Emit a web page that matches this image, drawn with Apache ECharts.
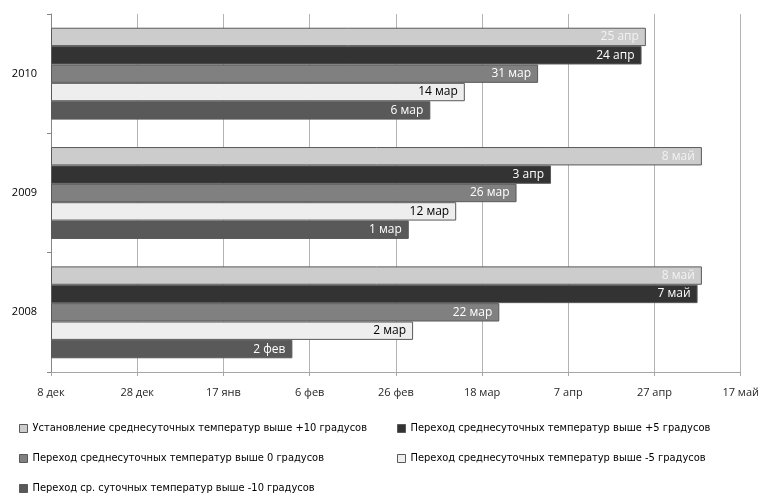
<!DOCTYPE html>
<html>
<head>
<meta charset="utf-8">
<script src="https://cdn.jsdelivr.net/npm/echarts@6/dist/echarts.min.js"></script>
<style>
  html, body { margin: 0; padding: 0; background: #ffffff; }
  #chart { width: 762px; height: 494px; }
</style>
</head>
<body>
<div id="chart"></div>
<script>
// Годы (снизу вверх)
const years = ['2008', '2009', '2010'];

// Подписи делений оси дат (шаг 20 дней от 8 декабря)
const tickLabels = ['8 дек', '28 дек', '17 янв', '6 фев', '26 фев', '18 мар', '7 апр', '27 апр', '17 май'];

// Названия рядов
const seriesNames = [
  'Установление среднесуточных температур выше +10 градусов',
  'Переход среднесуточных температур выше +5 градусов',
  'Переход среднесуточных температур выше 0 градусов',
  'Переход среднесуточных температур выше -5 градусов',
  'Переход ср. суточных температур выше -10 градусов'
];

// Даты перехода по годам: 2008, 2009, 2010
const above10  = ['8 май', '8 май', '25 апр'];
const above5   = ['7 май', '3 апр', '24 апр'];
const above0   = ['22 мар', '26 мар', '31 мар'];
const aboveM5  = ['2 мар', '12 мар', '14 мар'];
const aboveM10 = ['2 фев', '1 мар', '6 мар'];

// Номер дня от 8 декабря (невисокосный календарь оси)
const monthStart = { 'дек': -8, 'янв': 23, 'фев': 54, 'мар': 82, 'апр': 113, 'май': 143 };
function dayIndex(label) {
  const parts = label.split(' ');
  return monthStart[parts[1]] + Number(parts[0]);
}

const fills = ['#cccccc', '#333333', '#808080', '#eeeeee', '#595959'];
const labelColors = ['#f2f2f2', '#ffffff', '#ffffff', '#000000', '#ffffff'];
const values = [above10, above5, above0, aboveM5, aboveM10];

// Ряд +10 — верхняя полоса группы, −10 — нижняя
const series = values.map(function (labels, i) {
  return {
    name: seriesNames[i],
    type: 'bar',
    barGap: '0%',
    barCategoryGap: '23%',
    data: labels.map(function (l) { return { value: dayIndex(l), text: l }; }),
    itemStyle: { color: fills[i], borderColor: '#595959', borderWidth: 1 },
    label: {
      show: true,
      position: 'insideRight',
      distance: 7,
      color: labelColors[i],
      fontFamily: 'Open Sans',
      fontSize: 12,
      formatter: function (p) { return p.data.text; }
    }
  };
});

// Легенда в две колонки: каждая запись размещается отдельно
const legendSpots = [[14, 418], [392, 418], [14, 448], [392, 448], [14, 478]];
const legends = seriesNames.map(function (name, i) {
  return {
    data: [name],
    left: legendSpots[i][0], top: legendSpots[i][1],
    itemWidth: 8, itemHeight: 8, icon: 'rect',
    selectedMode: false,
    itemStyle: { borderColor: '#595959', borderWidth: 1 },
    textStyle: { fontFamily: '"DejaVu Sans Condensed", sans-serif', fontSize: 11, color: '#000' }
  };
});

const option = {
  animation: false,
  backgroundColor: '#ffffff',
  grid: { left: 51, right: 21, top: 14, bottom: 122 },
  legend: legends,
  xAxis: {
    type: 'value',
    min: 0, max: 160, interval: 20,
    axisLine: { show: true, lineStyle: { color: '#a6a6a6' } },
    axisTick: { show: true, length: 4, lineStyle: { color: '#a6a6a6' } },
    splitLine: { show: true, lineStyle: { color: '#b3b3b3' } },
    axisLabel: {
      margin: 15, color: '#262626', fontFamily: 'Open Sans', fontSize: 11,
      formatter: function (v) { return tickLabels[Math.round(v / 20)]; }
    }
  },
  yAxis: {
    type: 'category',
    data: years,
    axisLine: { show: true, lineStyle: { color: '#868686' } },
    axisTick: { show: true, length: 4, lineStyle: { color: '#868686' } },
    axisLabel: { margin: 14, color: '#000', fontFamily: 'Open Sans', fontSize: 11 }
  },
  series: series
};

echarts.init(document.getElementById('chart'), null, { renderer: 'canvas' }).setOption(option);
</script>
</body>
</html>
